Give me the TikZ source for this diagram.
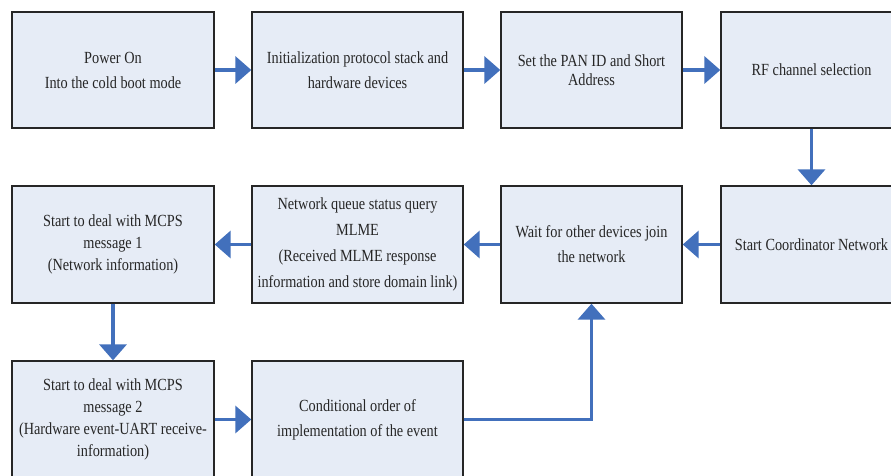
\documentclass[tikz,border=0pt]{standalone}
\usepackage{fontspec}
\setmainfont{Liberation Serif}[FakeStretch=0.84]
\usetikzlibrary{arrows.meta}
\definecolor{boxfill}{RGB}{230,236,246}
\definecolor{flow}{RGB}{66,112,188}
\begin{document}
\begin{tikzpicture}[x=1pt,y=-1pt,
  stepbox/.style={draw=black!85, line width=1.4pt, fill=boxfill, align=center,
    inner sep=2pt, text=black!85, font=\fontsize{17}{22}\selectfont},
  wide/.style={minimum width=202pt},
  wider/.style={minimum width=211pt},
  narrow/.style={minimum width=181pt},
  rowone/.style={minimum height=116pt},
  rowtwo/.style={minimum height=117pt},
  flowarrow/.style={draw=flow, line width=3.6pt, -{Triangle[length=16pt,width=27pt]}}]
\clip (0,0) rectangle (891,475);

% first row
\node[stepbox, wide, rowone, font=\fontsize{17}{25}\selectfont] (n1) at (113,70)
  {Power On\\Into the cold boot mode};
\node[stepbox, wider, rowone, font=\fontsize{17}{25}\selectfont] (n2) at (357.5,70)
  {Initialization protocol stack and\\hardware devices};
\node[stepbox, narrow, rowone, font=\fontsize{17}{19}\selectfont] (n3) at (591.5,70)
  {Set the PAN ID and Short\\Address};
\node[stepbox, narrow, rowone] (n4) at (811.5,70)
  {RF channel selection};

% second row
\node[stepbox, wide, rowtwo] (n5) at (113,244.5)
  {Start to deal with MCPS\\message 1\\(Network information)};
\node[stepbox, wider, rowtwo, font=\fontsize{17}{26}\selectfont] (n6) at (357.5,244.5)
  {Network queue status query\\MLME\\(Received MLME response\\information and store domain link)};
\node[stepbox, narrow, rowtwo, font=\fontsize{17}{25}\selectfont] (n7) at (591.5,244.5)
  {Wait for other devices join\\the network};
\node[stepbox, narrow, rowtwo] (n8) at (811.5,244.5)
  {Start Coordinator Network};

% third row
\node[stepbox, wide, rowtwo] (n9) at (113,419.5)
  {Start to deal with MCPS\\message 2\\(Hardware event-UART receive-\\information)};
\node[stepbox, wider, rowtwo, font=\fontsize{17}{25}\selectfont] (n10) at (357.5,419.5)
  {Conditional order of\\implementation of the event};

% flow
\draw[flowarrow] (n1) -- (n2);
\draw[flowarrow] (n2) -- (n3);
\draw[flowarrow] (n3) -- (n4);
\draw[flowarrow] (n4) -- (n8);
\draw[flowarrow] (n8) -- (n7);
\draw[flowarrow] (n7) -- (n6);
\draw[flowarrow] (n6) -- (n5);
\draw[flowarrow] (n5) -- (n9);
\draw[flowarrow] (n9) -- (n10);
\draw[flowarrow] (n10.east) -| (n7.south);
\end{tikzpicture}
\end{document}
